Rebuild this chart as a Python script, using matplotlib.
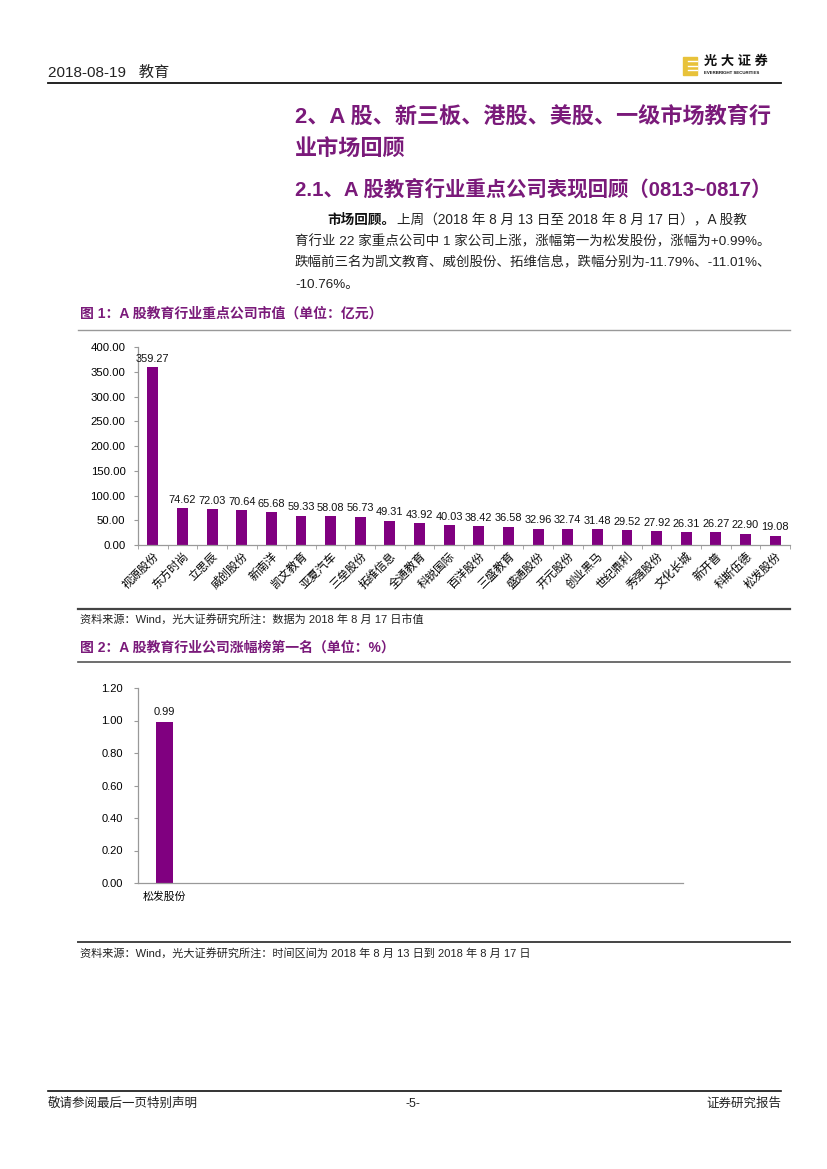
import matplotlib
matplotlib.use("Agg")
import matplotlib.pyplot as plt
import matplotlib.patches as mpatches
from matplotlib.lines import Line2D
import numpy as np

# 图1 数据
companies = ['视源股份', '东方时尚', '立思辰', '威创股份', '新南洋', '凯文教育', '亚夏汽车',
             '三垒股份', '拓维信息', '全通教育', '科锐国际', '百洋股份', '三盛教育', '盛通股份',
             '开元股份', '创业黑马', '世纪鼎利', '秀强股份', '文化长城', '新开普', '科斯伍德', '松发股份']
market_cap = [359.27, 74.62, 72.03, 70.64, 65.68, 59.33, 58.08, 56.73, 49.31, 43.92, 40.03,
              38.42, 36.58, 32.96, 32.74, 31.48, 29.52, 27.92, 26.31, 26.27, 22.90, 19.08]
yticks1 = [0, 50, 100, 150, 200, 250, 300, 350, 400]

# 图2 数据
top_names = ['松发股份']
top_change = [0.99]
yticks2 = [0, 0.2, 0.4, 0.6, 0.8, 1.0, 1.2]

W, H = 827, 1169
PURPLE = '#800080'
TITLE = '#7A1A7A'
FONT = ['Liberation Sans', 'Noto Sans CJK SC', 'DejaVu Sans']
plt.rcParams['font.family'] = FONT

fig = plt.figure(figsize=(W / 100, H / 100), dpi=100)


def fx(x):
    return x / W


def fy(y):
    return 1 - y / H


def txt(x, y, s, **kw):
    kw.setdefault('va', 'center')
    return fig.text(fx(x), fy(y), s, **kw)


def hline(x0, x1, y, color='#333333', lw=1.0):
    fig.add_artist(Line2D([fx(x0), fx(x1)], [fy(y), fy(y)], color=color, lw=lw,
                          transform=fig.transFigure))


# 页眉
txt(48, 73, '2018-08-19   教育', fontsize=11, color='#222222')
hline(48, 781, 83, color='#111111', lw=1.3)
fig.add_artist(mpatches.Rectangle((fx(683), fy(75)), fx(14), 18 / H, color='#E8C23A',
                                  transform=fig.transFigure))
for yy in (61, 65.5, 70):
    hline(688, 697, yy, color='white', lw=1.0)
txt(704, 62, '光 大 证 券', fontsize=9.5, weight='bold', color='#111111')
txt(704, 73, 'EVERBRIGHT SECURITIES', fontsize=3.2, weight='bold', color='#111111')

# 标题
txt(295, 117, '2、A 股、新三板、港股、美股、一级市场教育行', fontsize=15.9, weight='bold', color=TITLE)
txt(295, 150, '业市场回顾', fontsize=15.9, weight='bold', color=TITLE)
txt(295, 189, '2.1、A 股教育行业重点公司表现回顾（0813~0817）', fontsize=14.7, weight='bold', color=TITLE)

# 正文
bold_part = txt(327, 220, '市场回顾。', fontsize=9.8, weight='bold', color='#111111')
renderer = fig.canvas.get_renderer()
bx1 = bold_part.get_window_extent(renderer).x1
fig.text(bx1 / W + 0.002, fy(220), '上周（2018 年 8 月 13 日至 2018 年 8 月 17 日），A 股教',
         fontsize=9.8, color='#222222', va='center')
txt(295, 242, '育行业 22 家重点公司中 1 家公司上涨，涨幅第一为松发股份，涨幅为+0.99%。', fontsize=9.7, color='#222222')
txt(295, 263, '跌幅前三名为凯文教育、威创股份、拓维信息，跌幅分别为-11.79%、-11.01%、', fontsize=9.7, color='#222222')
txt(295, 285, '-10.76%。', fontsize=9.7, color='#222222')

# 图1
txt(80, 314, '图 1：A 股教育行业重点公司市值（单位：亿元）', fontsize=10, weight='bold', color=TITLE)
hline(78, 790, 330, color='#999999', lw=1.0)

ax1 = fig.add_axes([fx(138), fy(545), fx(790 - 138), (545 - 347) / H])
x1 = np.arange(len(companies))
ax1.bar(x1, market_cap, width=0.37, color=PURPLE)
for xi, v in zip(x1, market_cap):
    ax1.text(xi, v + 7, f'{v:.2f}', ha='center', va='bottom', fontsize=7.9, color='#111111')
ax1.set_xlim(-0.5, len(companies) - 0.5)
ax1.set_ylim(0, 400)
ax1.set_yticks(yticks1)
ax1.set_yticklabels([f'{v:.2f}' for v in yticks1], fontsize=8.2)
ax1.set_xticks(x1)
ax1.set_xticklabels(companies, rotation=45, ha='right', rotation_mode='anchor', fontsize=8.3)
ax1.set_xticks(np.arange(-0.5, len(companies)), minor=True)
ax1.tick_params(axis='x', which='major', length=0, pad=4)
ax1.tick_params(axis='x', which='minor', length=3, color='#999999', direction='out')
ax1.tick_params(axis='y', length=3, color='#999999', pad=6)
for s in ('top', 'right'):
    ax1.spines[s].set_visible(False)
for s in ('left', 'bottom'):
    ax1.spines[s].set_color('#999999')
    ax1.spines[s].set_linewidth(0.9)

hline(78, 790, 609, color='#444444', lw=1.6)
txt(80, 620, '资料来源：Wind，光大证券研究所注：数据为 2018 年 8 月 17 日市值', fontsize=8, color='#222222')

# 图2
txt(80, 648, '图 2：A 股教育行业公司涨幅榜第一名（单位：%）', fontsize=10, weight='bold', color=TITLE)
hline(78, 790, 662, color='#555555', lw=1.2)

ax2 = fig.add_axes([fx(138), fy(883), fx(683 - 138), (883 - 688) / H])
x2 = np.arange(len(top_names))
ax2.bar(x2, top_change, width=0.32, color=PURPLE)
for xi, v in zip(x2, top_change):
    ax2.text(xi, v + 0.03, f'{v:.2f}', ha='center', va='bottom', fontsize=8, color='#111111')
ax2.set_xlim(-0.5, 9.78)
ax2.set_ylim(0, 1.2)
ax2.set_yticks(yticks2)
ax2.set_yticklabels([f'{v:.2f}' for v in yticks2], fontsize=8)
ax2.set_xticks(x2)
ax2.set_xticklabels(top_names, fontsize=7.8)
ax2.tick_params(axis='x', length=0, pad=6)
ax2.tick_params(axis='y', length=3, color='#999999', pad=8)
for s in ('top', 'right'):
    ax2.spines[s].set_visible(False)
for s in ('left', 'bottom'):
    ax2.spines[s].set_color('#999999')
    ax2.spines[s].set_linewidth(0.9)

hline(78, 790, 942, color='#444444', lw=1.4)
txt(80, 954, '资料来源：Wind，光大证券研究所注：时间区间为 2018 年 8 月 13 日到 2018 年 8 月 17 日', fontsize=8, color='#222222')

# 页脚
hline(48, 781, 1091, color='#111111', lw=1.2)
txt(48, 1104, '敬请参阅最后一页特别声明', fontsize=9, color='#222222')
txt(413, 1104, '-5-', fontsize=9, color='#222222', ha='center')
txt(781, 1104, '证券研究报告', fontsize=9, color='#222222', ha='right')

fig.savefig('out.png', dpi=100)
